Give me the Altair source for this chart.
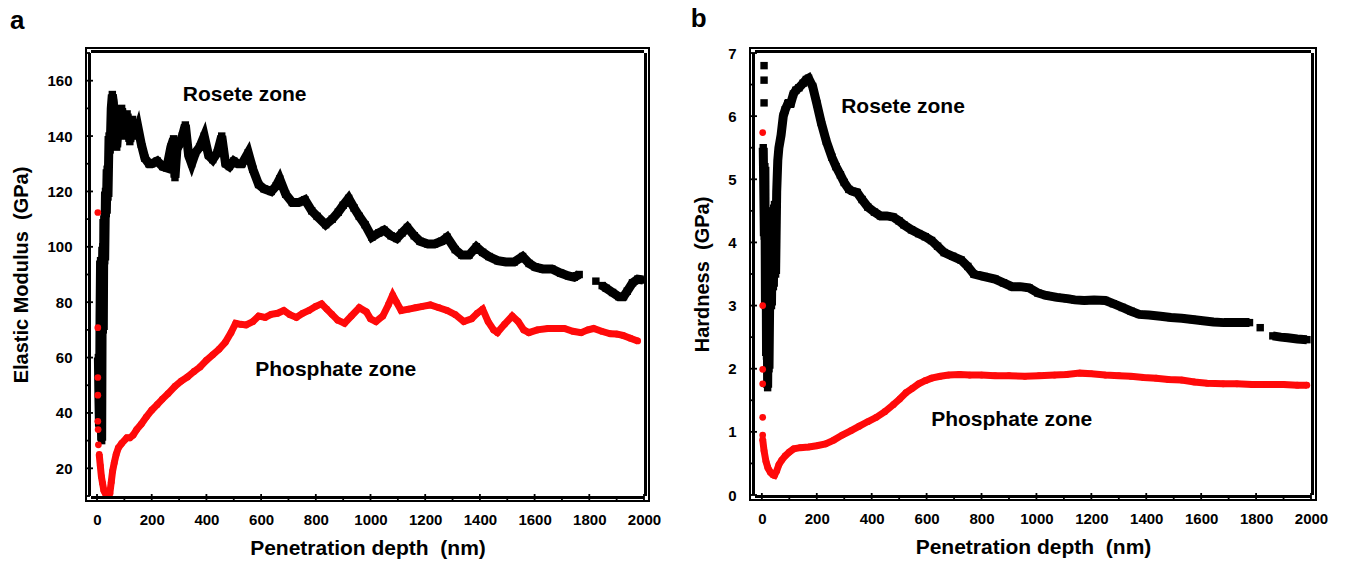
import altair as alt
import pandas as pd

# ---------------- Panel a : Elastic modulus ----------------
a_rosete_x = [5, 7, 9, 11, 13, 15, 17, 19, 21, 23, 25, 28, 31, 34, 37, 40, 44, 48, 52, 56, 60, 64, 68, 72,
              80, 90, 100, 110, 120, 130, 140, 150, 162, 175, 190, 200, 220, 240, 255, 270, 280, 285, 292,
              300, 312, 323, 335, 346, 360, 375, 392, 408, 423, 440, 456, 470, 484, 500, 515, 530, 553, 570,
              591, 610, 637, 655, 668, 690, 714, 737, 760, 785, 805, 836, 860, 882, 900, 920, 940, 959, 980,
              1005, 1030, 1050, 1075, 1096, 1115, 1135, 1160, 1181, 1210, 1234, 1260, 1280, 1310, 1334, 1360,
              1387, 1410, 1433, 1465, 1495, 1525, 1556, 1580, 1602, 1630, 1663, 1695, 1724, 1745, 1763,
              1824,
              1847, 1862, 1885, 1908, 1925, 1939, 1958, 1977, 1997]
a_rosete_y = [60, 45, 35, 75, 95, 40, 30, 85, 100, 70, 110, 95, 120, 112, 128, 118, 140, 135, 150, 155, 152, 138, 148, 136,
              147, 150, 140, 148, 138, 146, 140, 143, 137, 132, 130, 130, 131, 129, 128.5, 136, 139, 125, 135,
              137, 140, 144, 133, 130, 134, 136, 140, 133, 131.5, 134, 140, 130, 129, 131, 130, 130, 134, 128,
              122.5, 121, 120, 122, 124.5, 119, 116, 116, 117, 113, 111, 108, 110, 112.5, 115, 117.5, 114, 111, 108,
              103.5, 105, 106, 104, 103, 105, 107, 104, 102, 101, 101, 102, 103.5, 99, 97, 97,
              100, 98, 96.5, 95, 94.5, 94.5, 96.5, 94, 92.7, 92, 92, 90.5, 89.5, 89, 90,
              87.6,
              86, 85, 83.5, 82, 82, 84, 87, 88.3, 88]

a_phos_scatter_x = [3, 3, 3, 3, 3, 4, 5]
a_phos_scatter_y = [112.4, 70.8, 52.8, 46.4, 37, 34, 28.5]
a_phos_x = [8, 12, 16, 20, 25, 30, 35, 40, 47, 52, 57, 63, 70, 78, 90, 109, 120, 132, 145, 162, 180, 200, 220,
            239, 260, 285, 308, 331, 355, 377, 400, 423, 446, 469, 490, 507, 525, 545, 570, 591, 615, 637, 660,
            683, 705, 729, 752, 775, 800, 821, 840, 859, 880, 905, 930, 959, 985, 1000, 1020, 1045, 1065, 1081,
            1095, 1112, 1140, 1165, 1190, 1219, 1250, 1280, 1310, 1341, 1370, 1390, 1410, 1430, 1450, 1464, 1490,
            1518, 1540, 1560, 1579, 1610, 1648, 1680, 1709, 1740, 1770, 1795, 1816, 1845, 1877, 1900, 1923, 1950, 1977]
a_phos_y = [25, 21, 17, 14.7, 12, 11, 10.5, 10.5, 11, 15, 19, 22, 25, 27.4, 29, 31, 31, 32, 34, 36, 38.5, 41, 43,
            45, 47, 49.6, 51.5, 53, 55, 56.6, 59, 61, 63, 65.5, 69, 72.4, 72, 71.8, 73, 75, 74.5, 75.6, 76,
            77, 75.5, 74.5, 76, 77, 78.5, 79.4, 77.5, 75.6, 73.5, 72.4, 75, 78, 76.5, 74, 73, 75, 79, 82.6,
            80, 77, 77.5, 78, 78.5, 79, 78, 77, 75.5, 73, 74, 76, 77.5, 73, 70, 69, 72,
            75, 73, 70, 69, 70, 70.5, 70.5, 70.5, 69.5, 69, 70, 70.5, 69.5, 68.6, 68.5, 68, 67, 66]

# ---------------- Panel b : Hardness ----------------
b_rosete_scatter_x = [8, 8, 8]
b_rosete_scatter_y = [6.8, 6.57, 6.21]
b_rosete_x = [5, 7, 9, 11, 13, 15, 17, 19, 21, 23, 26, 29, 32, 35, 38, 42, 46, 50, 54, 58, 62, 70, 78, 85, 95,
              105, 115, 124, 135, 150, 162, 170, 185, 200, 216, 235, 255, 270, 286, 300, 317, 330, 347, 365,
              386, 410, 432, 455, 479, 500, 517, 545, 571, 595, 618, 640, 664, 695, 726, 750, 772, 810, 849,
              880, 911, 940, 973, 1005, 1035, 1075, 1112, 1140, 1174, 1210, 1251, 1280, 1313, 1345, 1375, 1410,
              1452, 1490, 1529, 1568, 1606, 1645, 1683, 1730, 1776,
              1815,
              1861, 1890, 1915, 1950, 1985]
b_rosete_y = [5.5, 4.8, 4.1, 5.2, 3.0, 4.4, 2.2, 3.6, 1.7, 2.8, 2.0, 3.3, 4.5, 3.0, 4.2, 3.3, 4.6, 3.5, 4.8, 5.3,
              5.5, 5.7, 6.0, 6.1, 6.2, 6.2, 6.35, 6.41, 6.45, 6.52, 6.58, 6.6, 6.47, 6.2, 5.9, 5.6, 5.35, 5.2,
              5.07, 4.95, 4.84, 4.81, 4.79, 4.68, 4.56, 4.48, 4.42, 4.42, 4.4, 4.34, 4.28, 4.2, 4.14, 4.09, 4.03,
              3.94, 3.84, 3.78, 3.72, 3.62, 3.5, 3.46, 3.42, 3.36, 3.3, 3.3, 3.28, 3.2, 3.16, 3.13, 3.11, 3.09,
              3.08, 3.09, 3.08, 3.03, 2.97, 2.91, 2.86, 2.85, 2.83, 2.81, 2.8, 2.78, 2.76, 2.74, 2.73, 2.73, 2.73,
              2.65,
              2.52, 2.5, 2.49, 2.47, 2.46]

b_phos_scatter_x = [3, 3, 3, 3, 3, 3]
b_phos_scatter_y = [5.74, 3.0, 1.99, 1.76, 1.23, 0.95]
b_phos_x = [3, 8, 15, 22, 31, 40, 46, 54, 62, 72, 85, 100, 116, 140, 170, 200, 232, 262, 293, 325, 355, 385, 417,
            448, 479, 502, 525, 548, 571, 595, 618, 650, 680, 720, 757, 800, 849, 900, 958, 1010, 1066, 1110,
            1158, 1200, 1251, 1300, 1344, 1390, 1436, 1480, 1529, 1575, 1622, 1680, 1730, 1785, 1838, 1900,
            1950, 1985]
b_phos_y = [0.88, 0.7, 0.53, 0.43, 0.36, 0.32, 0.31, 0.38, 0.48, 0.55, 0.62, 0.68, 0.73, 0.75, 0.76, 0.78, 0.81,
            0.87, 0.95, 1.02, 1.09, 1.16, 1.23, 1.32, 1.43, 1.52, 1.62, 1.69, 1.76, 1.81, 1.85, 1.88, 1.90, 1.91,
            1.90, 1.90, 1.89, 1.89, 1.88, 1.89, 1.90, 1.91, 1.93, 1.92, 1.90, 1.89, 1.88, 1.86, 1.85, 1.83, 1.82,
            1.79, 1.77, 1.76, 1.76, 1.75, 1.75, 1.75, 1.74, 1.74]

# annotations
a_label_text = ["Rosete zone", "Phosphate zone"]
a_label_x = [540, 873]
a_label_y = [155, 55.6]
b_label_text = ["Rosete zone", "Phosphate zone"]
b_label_x = [514, 910]
b_label_y = [6.15, 1.18]

# tick positions (major labelled, minor unlabelled)
x_major = list(range(0, 2001, 200))
x_minor = list(range(100, 2000, 200))
a_y_major = list(range(20, 161, 20))
a_y_minor = list(range(10, 171, 20))
b_y_major = list(range(0, 8))
b_y_minor = [0.5, 1.5, 2.5, 3.5, 4.5, 5.5, 6.5]

FONT = "Liberation Sans"
BLACK = "#000000"
RED = "#ff0a0a"


def gap_segments(xs):
    # the black curves have visible gaps near 1800 nm
    return [0 if x < 1800 else (1 if x < 1840 else 2) for x in xs]


def frame(xs, ys, seg):
    return pd.DataFrame({"x": xs, "y": ys, "seg": seg})


def panel(letter, ytitle, xdom, ydom, ymaj, ymin,
          rx, ry, rsx, rsy, px, py, psx, psy, lt, lx, ly, w, h):
    rose = frame(rx, ry, gap_segments(rx))
    rose_sc = frame(rsx, rsy, [9] * len(rsx))
    phos = frame(px, py, [0] * len(px))
    phos_sc = frame(psx, psy, [9] * len(psx))
    labels = pd.DataFrame({"x": lx, "y": ly, "t": lt})

    xs = alt.Scale(domain=xdom, nice=False, zero=False)
    ys = alt.Scale(domain=ydom, nice=False, zero=False)
    xenc = alt.X("x:Q", scale=xs,
                 axis=alt.Axis(title="Penetration depth\u00a0 (nm)", values=x_major,
                               labelOverlap=False, grid=False, domain=False, ticks=False,
                               labelPadding=11, titlePadding=10, labelFont=FONT, labelFontSize=15,
                               labelFontWeight="bold", titleFont=FONT, titleFontSize=21,
                               titleFontWeight="bold", labelColor=BLACK, titleColor=BLACK, format="d"))
    yenc = alt.Y("y:Q", scale=ys,
                 axis=alt.Axis(title=ytitle, values=ymaj,
                               labelOverlap=False, grid=False, domain=False, ticks=False,
                               labelPadding=14, titlePadding=15, labelFont=FONT, labelFontSize=15,
                               labelFontWeight="bold", titleFont=FONT, titleFontSize=20,
                               titleFontWeight="bold", labelColor=BLACK, titleColor=BLACK, format="d"))

    rose_line = alt.Chart(rose).mark_line(color=BLACK, strokeWidth=9, strokeJoin="miter").encode(
        x=xenc, y=yenc, detail="seg:N")
    rose_pts = alt.Chart(pd.concat([rose, rose_sc])).mark_square(color=BLACK, size=55, opacity=1).encode(
        x="x:Q", y="y:Q")
    phos_line = alt.Chart(phos).mark_line(color=RED, strokeWidth=7).encode(x="x:Q", y="y:Q")
    phos_pts = alt.Chart(pd.concat([phos, phos_sc])).mark_circle(color=RED, size=45, opacity=1).encode(
        x="x:Q", y="y:Q")
    text = alt.Chart(labels).mark_text(font=FONT, fontSize=21, fontWeight="bold",
                                       color=BLACK).encode(x="x:Q", y="y:Q", text="t:N")

    # plot frame and inward ticks, drawn as filled bars through the scales
    box = pd.DataFrame({"x0": [xdom[0]], "x1": [xdom[1]], "y0": [ydom[0]], "y1": [ydom[1]]})
    left = alt.Chart(box).mark_rect(color=BLACK).encode(
        x="x0:Q", y="y0:Q", y2="y1:Q", x2=alt.value(2))
    right = alt.Chart(box).mark_rect(color=BLACK).encode(
        x="x1:Q", y="y0:Q", y2="y1:Q", x2=alt.value(w - 2))
    top = alt.Chart(box).mark_rect(color=BLACK).encode(
        y="y1:Q", x="x0:Q", x2="x1:Q", y2=alt.value(2))
    bottom = alt.Chart(box).mark_rect(color=BLACK).encode(
        y="y0:Q", x="x0:Q", x2="x1:Q", y2=alt.value(h - 2))

    xt_major = alt.Chart(pd.DataFrame({"v": x_major})).mark_bar(
        color=BLACK, size=1.8, orient="vertical").encode(x="v:Q", y=alt.value(h), y2=alt.value(h - 7))
    xt_minor = alt.Chart(pd.DataFrame({"v": x_minor})).mark_bar(
        color=BLACK, size=1.8, orient="vertical").encode(x="v:Q", y=alt.value(h), y2=alt.value(h - 4))
    yt_major = alt.Chart(pd.DataFrame({"v": ymaj})).mark_bar(
        color=BLACK, size=1.8, orient="horizontal").encode(y="v:Q", x=alt.value(0), x2=alt.value(7))
    yt_minor = alt.Chart(pd.DataFrame({"v": ymin})).mark_bar(
        color=BLACK, size=1.8, orient="horizontal").encode(y="v:Q", x=alt.value(0), x2=alt.value(4))

    return alt.layer(rose_line, rose_pts, phos_line, phos_pts, text,
                     left, right, top, bottom,
                     xt_major, xt_minor, yt_major, yt_minor).properties(
        width=w, height=h,
        title=alt.TitleParams(letter, anchor="start", frame="bounds", font=FONT,
                              fontSize=26, fontWeight="bold", color=BLACK, offset=14, dx=-2))


pa = panel("a", "Elastic Modulus\u00a0 (GPa)", [-22, 2000], [10, 170], a_y_major, a_y_minor,
           a_rosete_x, a_rosete_y, [], [],
           a_phos_x, a_phos_y, a_phos_scatter_x, a_phos_scatter_y,
           a_label_text, a_label_x, a_label_y, 563, 453)
pb = panel("b", "Hardness\u00a0 (GPa)", [-25, 2000], [0, 7], b_y_major, b_y_minor,
           b_rosete_x, b_rosete_y, b_rosete_scatter_x, b_rosete_scatter_y,
           b_phos_x, b_phos_y, b_phos_scatter_x, b_phos_scatter_y,
           b_label_text, b_label_x, b_label_y, 566, 452)

chart = alt.hconcat(pa, pb, spacing=26).configure(
    background="white",
    padding={"left": 8, "top": 4, "right": 2, "bottom": 5},
    view=alt.ViewConfig(stroke=BLACK, strokeWidth=2))

chart.save("out.html", embed_options={"renderer": "svg", "actions": False})
